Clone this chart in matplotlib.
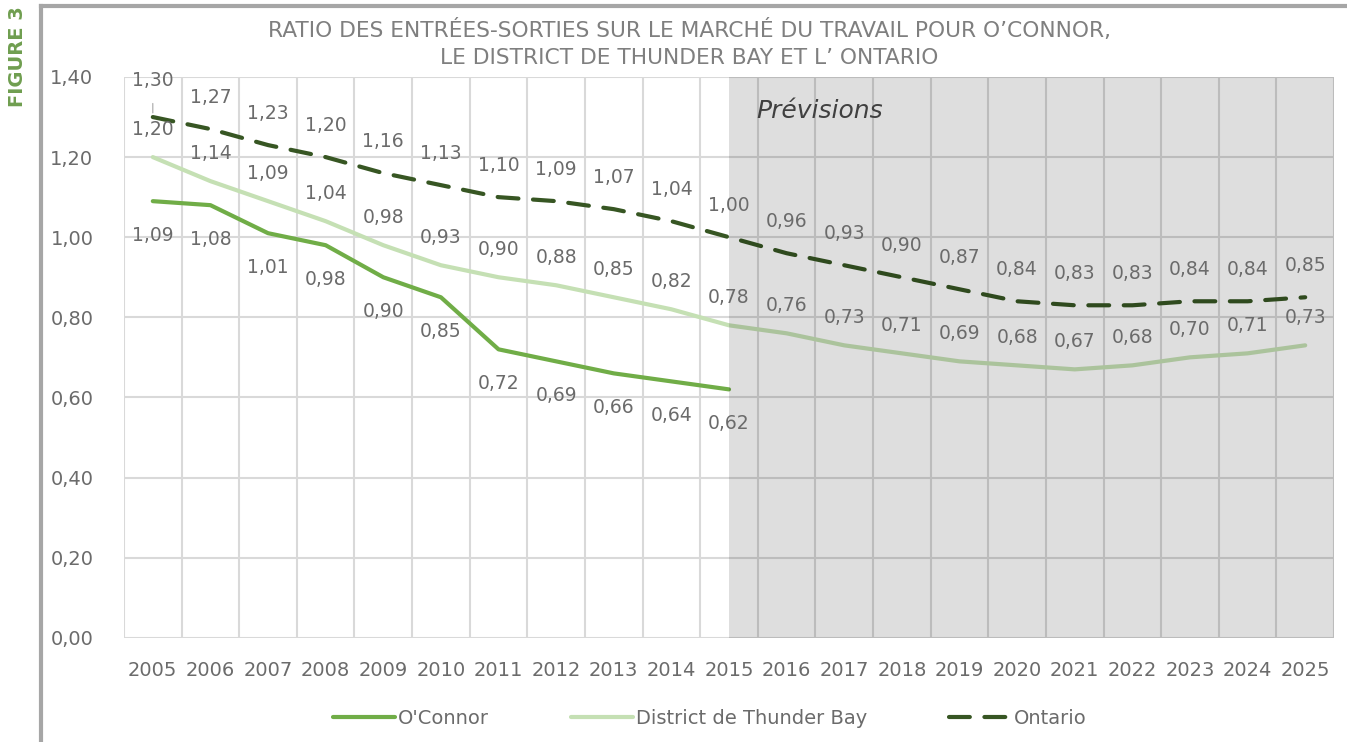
import matplotlib.pyplot as plt
from matplotlib.lines import Line2D

years = [str(y) for y in range(2005, 2026)]
oconnor = [1.09, 1.08, 1.01, 0.98, 0.90, 0.85, 0.72, 0.69, 0.66, 0.64, 0.62]
district = [1.20, 1.14, 1.09, 1.04, 0.98, 0.93, 0.90, 0.88, 0.85, 0.82, 0.78,
            0.76, 0.73, 0.71, 0.69, 0.68, 0.67, 0.68, 0.70, 0.71, 0.73]
ontario = [1.30, 1.27, 1.23, 1.20, 1.16, 1.13, 1.10, 1.09, 1.07, 1.04, 1.00,
           0.96, 0.93, 0.90, 0.87, 0.84, 0.83, 0.83, 0.84, 0.84, 0.85]
forecast_start = 10  # 2015

c_oc = '#70ad47'
c_di = '#c5e0b4'
c_on = '#375623'
txt = '#6b6b6b'

plt.rcParams['font.family'] = 'DejaVu Sans'

fig = plt.figure(figsize=(13.47, 7.42), dpi=100)
ax = fig.add_axes([124 / 1347, 1 - 637.7 / 742, 1210 / 1347, 560.7 / 742])

x_all = list(range(len(years)))
ax.plot(x_all[:len(oconnor)], oconnor, color=c_oc, lw=3, label="O'Connor", zorder=2,
        solid_capstyle='round')
ax.plot(x_all, district, color=c_di, lw=3, label='District de Thunder Bay', zorder=2,
        solid_capstyle='round')
ax.plot(x_all, ontario, color=c_on, lw=3, dashes=(5, 3.5), label='Ontario', zorder=2,
        dash_capstyle='round')

# forecast shading (overlay)
ax.axvspan(forecast_start, len(years) - 0.5, color='black', alpha=0.13, lw=0, zorder=3)
ax.text(forecast_start + 0.48, 1.315, 'Prévisions', style='italic', fontsize=18,
        color='#404040', va='center', ha='left', zorder=6)


def fmt(v):
    return f'{v:.2f}'.replace('.', ',')


lab_size = 13.5
for i, v in enumerate(oconnor):
    ax.annotate(fmt(v), (i, v), xytext=(0, -34), textcoords='offset pixels',
                ha='center', va='center', fontsize=lab_size, color=txt, zorder=6)
for i, v in enumerate(district):
    ax.annotate(fmt(v), (i, v), xytext=(0, 28), textcoords='offset pixels',
                ha='center', va='center', fontsize=lab_size, color=txt, zorder=6)
for i, v in enumerate(ontario):
    if i == 0:
        ax.annotate(fmt(v), (i, v), xytext=(0, 37), textcoords='offset pixels',
                    ha='center', va='center', fontsize=lab_size, color=txt, zorder=6,
                    arrowprops=dict(arrowstyle='-', color='#a6a6a6', lw=0.8,
                                    shrinkA=8, shrinkB=3))
    else:
        ax.annotate(fmt(v), (i, v), xytext=(0, 32), textcoords='offset pixels',
                    ha='center', va='center', fontsize=lab_size, color=txt, zorder=6)

ax.set_xlim(-0.5, len(years) - 0.5)
ax.set_ylim(0, 1.4)
ax.set_xticks(x_all)
ax.set_xticklabels(years)
ax.set_xticks([i - 0.5 for i in range(len(years) + 1)], minor=True)
ax.set_yticks([0, 0.2, 0.4, 0.6, 0.8, 1.0, 1.2, 1.4])
ax.set_yticklabels([fmt(v) for v in [0, 0.2, 0.4, 0.6, 0.8, 1.0, 1.2, 1.4]])
ax.tick_params(axis='both', which='both', length=0, labelsize=14, colors=txt)
ax.tick_params(axis='x', pad=17)
ax.tick_params(axis='y', pad=22)
ax.grid(True, axis='y', which='major', color='#d9d9d9', lw=1.5, zorder=0)
ax.grid(True, axis='x', which='minor', color='#d9d9d9', lw=1.5, zorder=0)
ax.grid(False, axis='x', which='major')
for s in ax.spines.values():
    s.set_visible(False)
ax.set_axisbelow(True)

fig.text(0.512, 1 - 30 / 742, "RATIO DES ENTRÉES-SORTIES SUR LE MARCHÉ DU TRAVAIL POUR O’CONNOR,",
         ha='center', va='center', fontsize=15.7, color='#7f7f7f')
fig.text(0.512, 1 - 58 / 742, "LE DISTRICT DE THUNDER BAY ET L’ ONTARIO",
         ha='center', va='center', fontsize=15.7, color='#7f7f7f')
fig.text(18 / 1347, 1 - 57 / 742, 'FIGURE 3', rotation=90, ha='center', va='center',
         fontsize=14, fontweight='bold', color='#6f9e4f')

# frame lines
fig.add_artist(Line2D([41 / 1347, 41 / 1347], [0, 1 - 6 / 742], color='#a6a6a6', lw=3))
fig.add_artist(Line2D([41 / 1347, 1], [1 - 6 / 742, 1 - 6 / 742], color='#a6a6a6', lw=3))

fig.legend(loc='center', bbox_to_anchor=(0.527, 1 - 718 / 742), ncol=3, frameon=False,
           fontsize=14, labelcolor=txt, handlelength=3.2, columnspacing=4.2,
           handletextpad=0.15)

fig.savefig('out.png', dpi=100)
